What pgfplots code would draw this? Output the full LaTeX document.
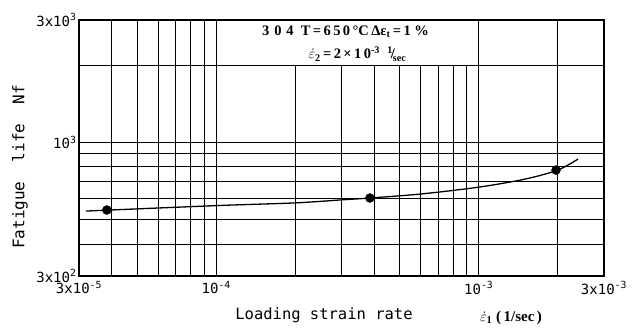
\documentclass[border=0pt]{standalone}
\usepackage{fontspec}
\setmainfont{Liberation Serif}
\newfontfamily\labelfont{DejaVu Sans Mono}
\usepackage{pgfplots}
\pgfplotsset{compat=1.18}
\begin{document}
\begin{tikzpicture}
\begin{axis}[
  scale only axis, width=525pt, height=256pt,
  xmode=log, ymode=log,
  xmin=3e-5, xmax=3e-3, ymin=300, ymax=3000,
  xtick={3e-5,1e-4,1e-3,3e-3},
  xticklabels={3x10\textsuperscript{-5},10\textsuperscript{-4},10\textsuperscript{-3},3x10\textsuperscript{-3}},
  ytick={300,1000,3000},
  yticklabels={3x10\textsuperscript{2},10\textsuperscript{3},3x10\textsuperscript{3}},
  minor xtick={4e-5,5e-5,6e-5,7e-5,8e-5,9e-5,2e-4,3e-4,4e-4,5e-4,6e-4,7e-4,8e-4,9e-4,2e-3},
  minor ytick={400,500,600,700,800,900,2000},
  grid=both,
  major grid style={black, line width=0.9pt},
  minor grid style={black, line width=0.9pt},
  major tick length=0pt, minor tick length=0pt,
  axis line style={black, line width=1.2pt},
  tick label style={font=\labelfont\fontsize{14}{16}\selectfont},
  xticklabel style={yshift=-2pt},
  yticklabel style={xshift=1pt},
  /pgf/number format/assume math mode=true,
  clip=false,
]
\fill[white] (axis cs:1e-4,2000) rectangle (axis cs:1e-3,3000);
\draw[black, line width=0.9pt] (axis cs:1e-4,2000) rectangle (axis cs:1e-3,3000);
\addplot[black, line width=1.3pt, smooth, tension=0.5] coordinates {
  (3.19e-5,538) (1e-4,565) (2e-4,579) (3e-4,595) (3.85e-4,605)
  (6e-4,627) (1e-3,667) (1.5e-3,717) (2e-3,778) (2.39e-3,859)
};
\addplot[only marks, mark=*, mark size=4.5pt, black] coordinates {
  (3.83e-5,543) (3.85e-4,605) (1.97e-3,778)
};
\node[font=\bfseries\fontsize{14.5}{16}\selectfont, anchor=center] at (axis cs:3.11e-4,2694) {3\,\,0\,\,4\ \ T\,=\,6\,5\,0\,°C\,Δε\textsubscript{t}\,=\,1\ \%};
\node[font=\bfseries\fontsize{14.5}{16}\selectfont, anchor=center] at (axis cs:3.45e-4,2209) {$\dot{\varepsilon}$\textsubscript{2}\,=\,2\,×\,1\,0\textsuperscript{-3}\ \ \textsuperscript{1}\kern-2pt/\kern-2pt\textsubscript{sec}};
\end{axis}
\node[font=\labelfont\fontsize{16}{18}\selectfont, rotate=90] at (-59pt,109pt) {Fatigue~~life~~Nf};
\node[font=\labelfont\fontsize{15.5}{18}\selectfont] at (245pt,-39pt) {Loading strain rate};
\node[font=\bfseries\fontsize{15}{17}\selectfont] at (432pt,-42pt) {$\dot{\varepsilon}$\textsubscript{1}\ (\,1/sec\,)};
\path (-79pt,-53pt) rectangle (555pt,276pt);
\end{tikzpicture}
\end{document}
